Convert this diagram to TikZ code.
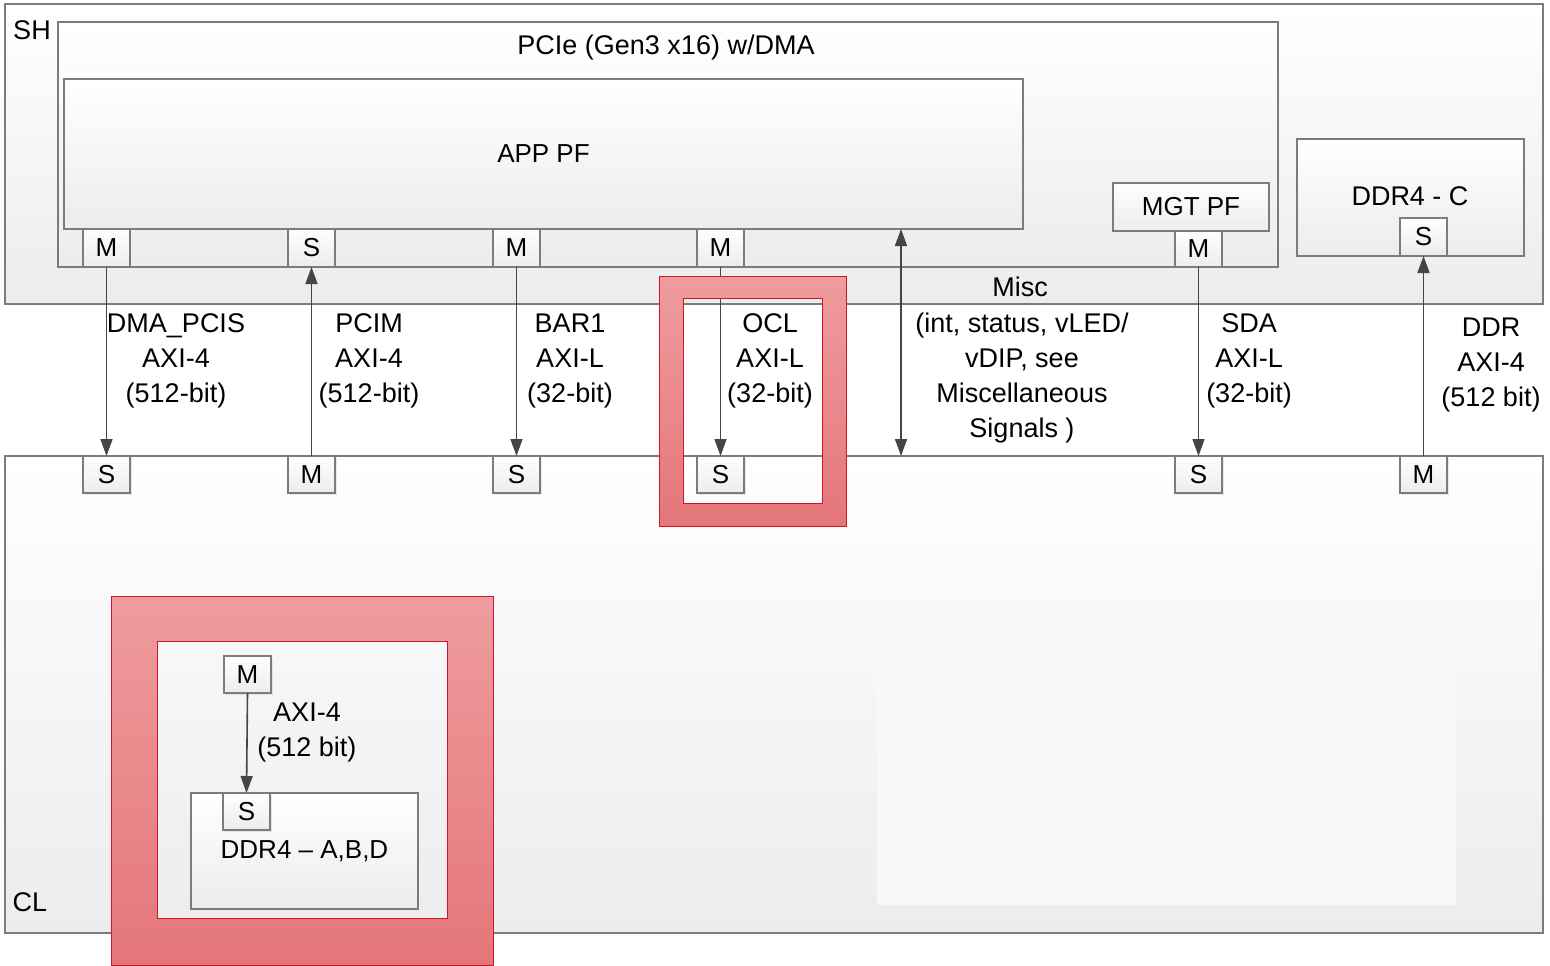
\documentclass[tikz,border=0pt]{standalone}
\usepackage{fontspec}
\setmainfont{Liberation Sans}
\usetikzlibrary{arrows.meta,shadows}
\definecolor{bordergray}{HTML}{7C7C7C}
\definecolor{arrowgray}{HTML}{454545}
\definecolor{botgray}{HTML}{ECECEC}
\definecolor{redtop}{HTML}{EF9C9E}
\definecolor{redbot}{HTML}{E47679}
\definecolor{redline}{HTML}{D0142E}
\definecolor{faint}{HTML}{F8F8F8}
\begin{document}
\begin{tikzpicture}[x=1pt,y=-1pt,
  box/.style={rectangle, draw=bordergray, line width=2pt, top color=white, bottom color=botgray,
              inner sep=0pt, outer sep=0pt, anchor=north west, font=\fontsize{26}{30}\selectfont},
  port/.style={box, minimum width=47pt, minimum height=37pt},
  sport/.style={port, drop shadow={shadow xshift=2pt, shadow yshift=-2pt, fill=gray!35}},
  lbl/.style={align=center, font=\fontsize{27}{35}\selectfont, inner sep=0pt},
  arr/.style={draw=arrowgray, line width=1.6pt, -{Triangle[width=12pt,length=17pt]}},
  dblarr/.style={draw=arrowgray, line width=1.6pt, {Triangle[width=12pt,length=17pt]}-{Triangle[width=12pt,length=17pt]}},
  hilite/.style={top color=redtop, bottom color=redbot, even odd rule},
  hiliteline/.style={draw=redline, line width=1pt}
]
\useasboundingbox (0,0) rectangle (1550,966);

% ---------------- SH ----------------
\node[box, minimum width=1538pt, minimum height=300pt] (sh) at (5,4) {};
\node[lbl, anchor=center] (shl) at (32,30) {SH};
\node[box, minimum width=1220pt, minimum height=245pt] (pcie) at (58,22) {};
\node[lbl, anchor=center] (pciel) at (666,48) {PCIe (Gen3 x16) w/DMA};
\node[box, minimum width=959pt, minimum height=150pt] (app) at (64,79) {APP PF};

\node[port, minimum height=38pt] (pm1) at (83,229) {M};
\node[port, minimum height=38pt] (ps1) at (288,229) {S};
\node[port, minimum height=38pt] (pm2) at (493,229) {M};
\node[port, minimum height=38pt] (pm3) at (697,229) {M};

\node[box, minimum width=156pt, minimum height=48pt] (mgt) at (1113,183) {MGT PF};
\node[port, minimum height=36pt] (pm4) at (1175,231) {M};

\node[box, minimum width=227pt, minimum height=117pt] (ddrc) at (1297,139) {};
\node[lbl, anchor=center] (ddrcl) at (1410,196) {DDR4 - C};
\node[port, minimum height=38pt] (ds) at (1400,218) {S};

\node[lbl, anchor=center] (miscl) at (1020,287) {Misc};

% ---------------- CL ----------------
\node[box, minimum width=1538pt, minimum height=477pt] (cl) at (5,456) {};
\node[lbl, anchor=center] (cll) at (30,902) {CL};
\fill[faint] (877,636) rectangle (1456,905);

\node[sport] (cs1) at (83,456) {S};
\node[sport] (cm2) at (288,456) {M};
\node[sport] (cs3) at (493,456) {S};
\node[sport] (cs4) at (697,456) {S};
\node[sport] (cs5) at (1175,456) {S};
\node[sport] (cm6) at (1400,456) {M};

\node[box, minimum width=227pt, minimum height=116pt] (ddrabd) at (191,793) {DDR4 – A,B,D};
\node[sport] (im) at (224,656) {M};
\node[sport] (is) at (223,793) {S};

% ---------------- connectors ----------------
\coordinate (mtop) at (901,229);
\coordinate (mbot) at (901,456);
\draw[arr] (pm1.south) -- (cs1.north);
\draw[arr] (cm2.north) -- (ps1.south);
\draw[arr] (pm2.south) -- (cs3.north);
\draw[arr] (pm3.south) -- (cs4.north);
\draw[dblarr] (mbot) -- (mtop);
\draw[arr] (pm4.south) -- (cs5.north);
\draw[arr] (cm6.north) -- (ds.south);
\draw[arr] (im.south) -- (is.north);

% ---------------- labels ----------------
\node[lbl] (l1) at (176,361) {DMA\_PCIS\\AXI-4\\(512-bit)};
\node[lbl] (l2) at (369,361) {PCIM\\AXI-4\\(512-bit)};
\node[lbl] (l3) at (570,361) {BAR1\\AXI-L\\(32-bit)};
\node[lbl] (l4) at (770,361) {OCL\\AXI-L\\(32-bit)};
\node[lbl] (l5) at (1022,378) {(int, status, vLED/\\vDIP, see\\Miscellaneous\\Signals )};
\node[lbl] (l6) at (1249,361) {SDA\\AXI-L\\(32-bit)};
\node[lbl] (l7) at (1491,365) {DDR\\AXI-4\\(512 bit)};
\node[lbl] (l8) at (307,732) {AXI-4\\(512 bit)};

% ---------------- highlight frames ----------------
\shade[hilite] (659,276) rectangle (846,526) (683,298) rectangle (822,503);
\draw[hiliteline] (659,276) rectangle (846,526) (683,298) rectangle (822,503);
\shade[hilite] (111,596) rectangle (493,965) (157,641) rectangle (447,918);
\draw[hiliteline] (111,596) rectangle (493,965) (157,641) rectangle (447,918);
\end{tikzpicture}
\end{document}
